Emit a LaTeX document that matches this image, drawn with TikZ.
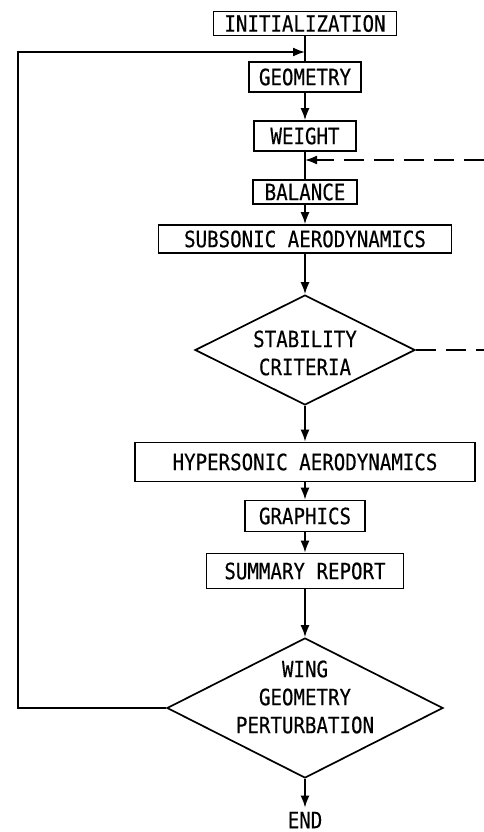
\documentclass[tikz,border=0pt]{standalone}
\usepackage{fontspec}
\setmonofont{DejaVu Sans Mono}[FakeStretch=0.85,FakeBold=0.4]
\usetikzlibrary{shapes.geometric,arrows.meta,calc}
\begin{document}
\begin{tikzpicture}[x=1pt,y=-1pt,
  lbl/.style={font=\ttfamily\fontsize{22.5}{28}\selectfont, align=center, inner sep=0pt},
  stepbox/.style={lbl, draw, line width=1.7pt},
  dec/.style={draw, diamond, line width=1.7pt, inner sep=0pt},
  flow/.style={line width=1.7pt, -{Latex[length=12pt,width=9pt]}},
  link/.style={line width=1.7pt},
  dashline/.style={line width=1.7pt, dash pattern=on 20pt off 10pt}]
\useasboundingbox (0,0) rectangle (484,832);

\node[stepbox, minimum width=183pt, minimum height=24pt] (init) at (305,23.5) {INITIALIZATION};
\node[stepbox, minimum width=112pt, minimum height=30pt] (geo) at (305,77) {GEOMETRY};
\node[stepbox, minimum width=102pt, minimum height=30pt] (wt) at (305,136) {WEIGHT};
\node[stepbox, minimum width=104pt, minimum height=24pt] (bal) at (305,192) {BALANCE};
\node[stepbox, minimum width=293pt, minimum height=28pt] (sub) at (305,239) {SUBSONIC AERODYNAMICS};
\node[dec, minimum width=220pt, minimum height=110pt] (stab) at (305,350) {};
\node[lbl] (stabt) at (305,353) {STABILITY\\CRITERIA};
\node[stepbox, minimum width=340pt, minimum height=39pt] (hyp) at (305,462) {HYPERSONIC AERODYNAMICS};
\node[stepbox, minimum width=120pt, minimum height=31pt] (gra) at (305,516) {GRAPHICS};
\node[stepbox, minimum width=197pt, minimum height=35pt] (sum) at (305,571) {SUMMARY REPORT};
\node[dec, minimum width=276pt, minimum height=140pt] (wing) at (305,708) {};
\node[lbl] (wingt) at (305,697) {WING\\GEOMETRY\\PERTURBATION};
\node[lbl, inner sep=4pt] (end) at (305,820) {END};

\coordinate (lx) at (18,0);
\coordinate (jtop) at (305,52);
\coordinate (din) at (484,160);
\coordinate (djoin) at (305,160);
\coordinate (dout) at (484,0);

\draw[link] (init) -- (geo);
\draw[flow] (geo) -- (wt);
\draw[link] (wt) -- (bal);
\draw[flow] (bal) -- (sub);
\draw[flow] (sub) -- (stab);
\draw[flow] (stab) -- (hyp);
\draw[flow] (hyp) -- (gra);
\draw[flow] (gra) -- (sum);
\draw[flow] (sum) -- (wing);
\draw[flow] (wing) -- (end);
\draw[flow] (wing.west) -- (wing.west -| lx) -- (jtop -| lx) -- (jtop);
\draw[dashline, -{Latex[length=12pt,width=9pt]}] (din) -- (djoin);
\draw[dashline] (stab.east) -- (stab.east -| dout);
\end{tikzpicture}
\end{document}
